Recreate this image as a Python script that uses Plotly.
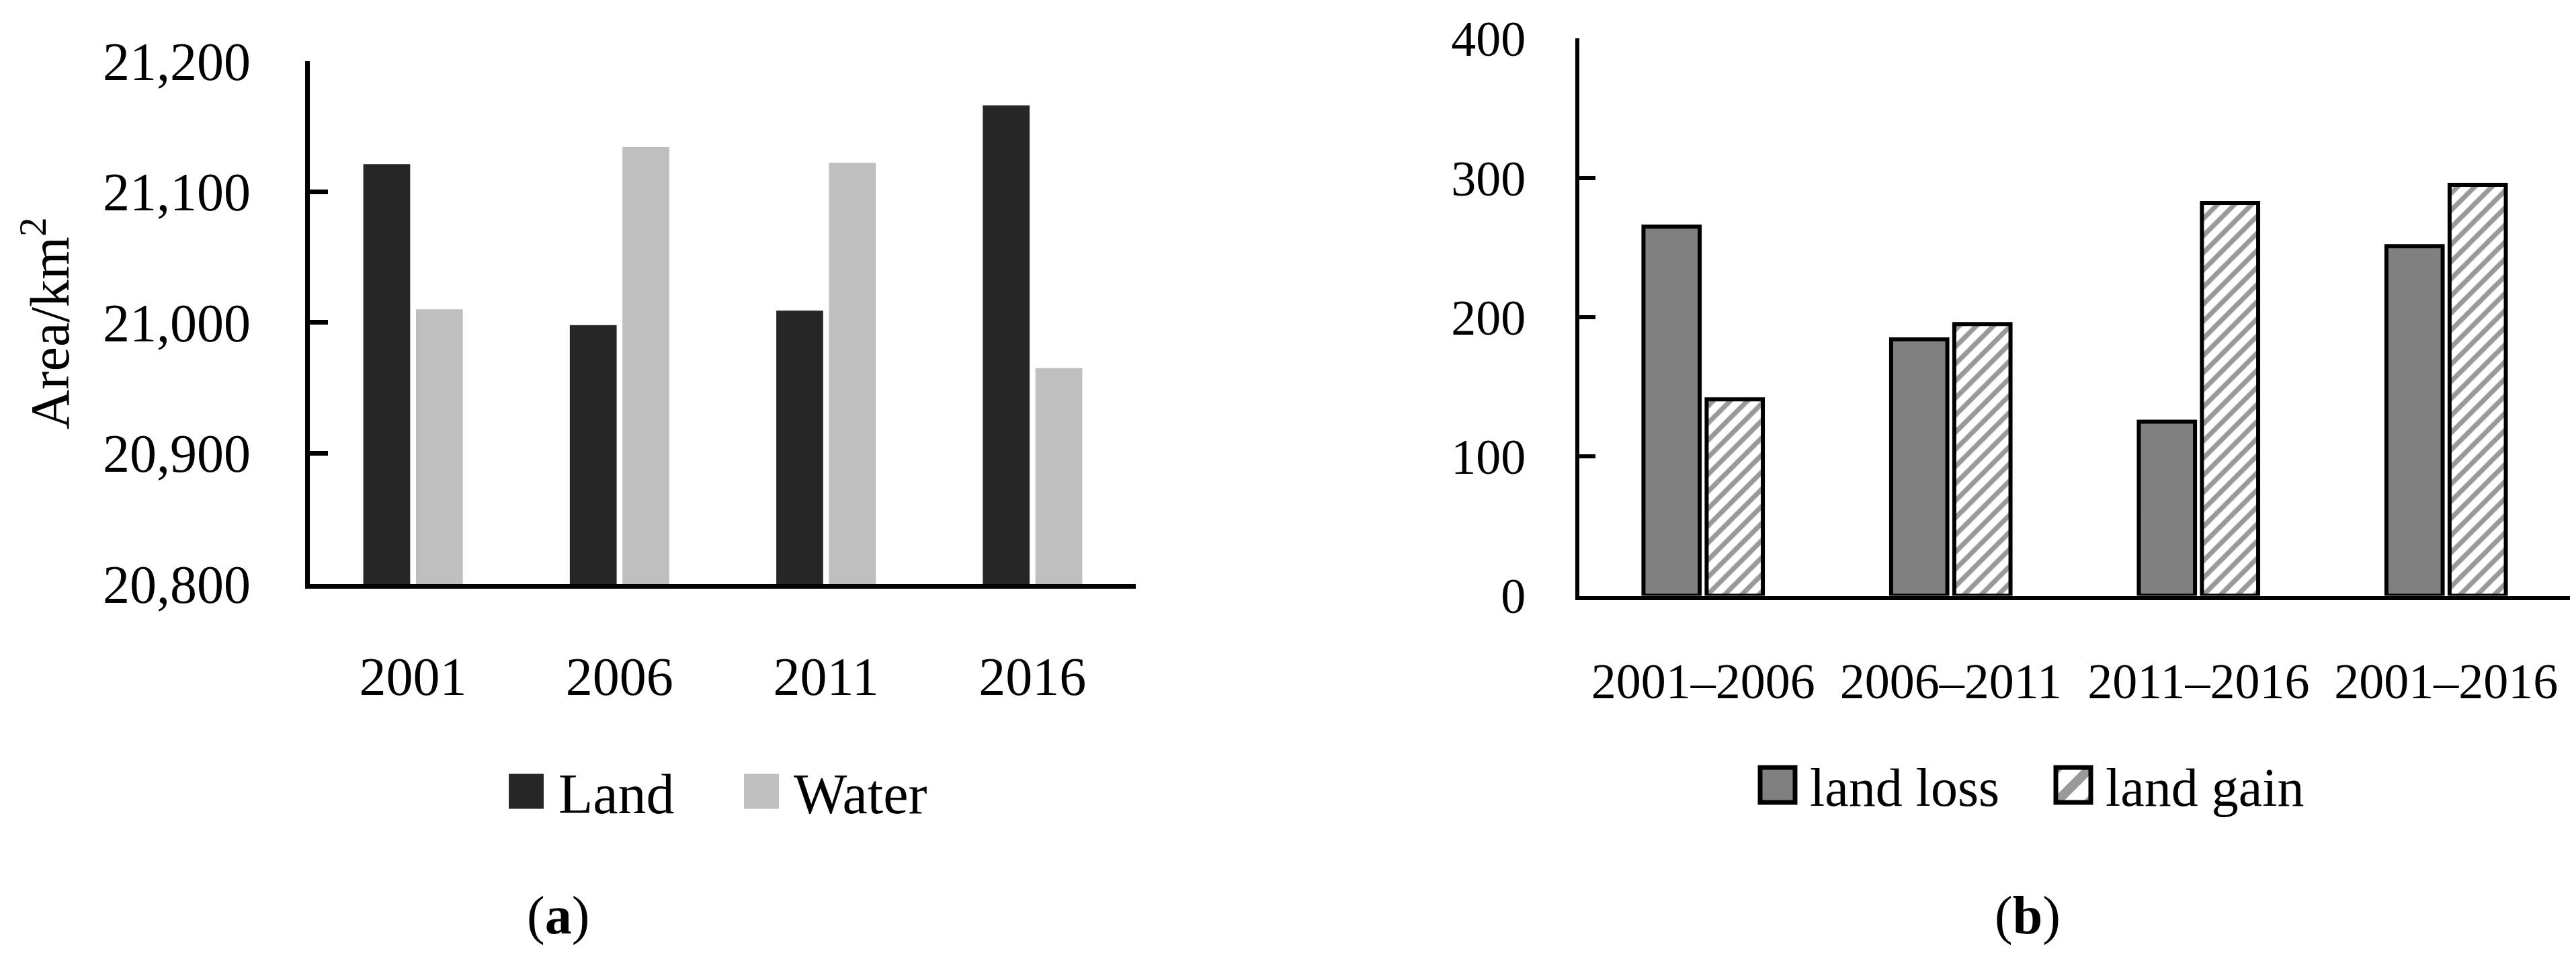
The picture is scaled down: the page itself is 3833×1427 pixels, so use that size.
import plotly.graph_objects as go

# ---- data ----
years = ["2001", "2006", "2011", "2016"]
land = [21121, 20998, 21009, 21166]
water = [21010, 21134, 21122, 20965]

periods = ["2001–2006", "2006–2011", "2011–2016", "2001–2016"]
land_loss = [265, 184, 125, 251]
land_gain = [141, 195, 282, 295]

y_ticks_a = [20800, 20900, 21000, 21100, 21200]
y_ticks_b = [0, 100, 200, 300, 400]

W, H = 3833, 1427
FONT = "Liberation Serif"

fig = go.Figure()
fig.add_trace(go.Bar(x=years, y=land, name="Land", marker=dict(color="#262626", line=dict(width=0)),
                     xaxis="x", yaxis="y", legend="legend"))
fig.add_trace(go.Bar(x=years, y=water, name="Water", marker=dict(color="#bfbfbf", line=dict(width=0)),
                     xaxis="x", yaxis="y", legend="legend"))
fig.add_trace(go.Bar(x=periods, y=land_loss, name="land loss",
                     marker=dict(color="#808080", line=dict(color="black", width=6)),
                     xaxis="x2", yaxis="y2", legend="legend2"))
fig.add_trace(go.Bar(x=periods, y=land_gain, name="land gain",
                     marker=dict(color="white", line=dict(color="black", width=6),
                                 pattern=dict(shape="/", fgcolor="#333333", bgcolor="white",
                                              size=18, solidity=0.4)),
                     xaxis="x2", yaxis="y2", legend="legend2"))

axis_common = dict(showgrid=False, zeroline=False, showline=True, linecolor="black",
                   color="black", fixedrange=True, automargin=False)

fig.update_layout(
    width=W, height=H, autosize=False,
    margin=dict(l=0, r=0, t=0, b=0, pad=0, autoexpand=False),
    paper_bgcolor="white", plot_bgcolor="white",
    font=dict(family=FONT, color="black", size=80),
    bargap=0.49, bargroupgap=0.11,
    xaxis=dict(domain=[461 / W, 1690 / W], anchor="y", ticks="", linewidth=7,
               tickfont=dict(size=80), ticklabelstandoff=62, **axis_common),
    yaxis=dict(domain=[1 - 869 / H, 1 - 90.5 / H], anchor="x", range=[20800, 21200],
               tickvals=y_ticks_a, tickformat=",", ticks="inside", ticklen=27, tickwidth=7,
               tickcolor="black", linewidth=7, tickfont=dict(size=80), ticklabelstandoff=65,
               **axis_common),
    xaxis2=dict(domain=[2350 / W, 3824 / W], anchor="y2", ticks="", linewidth=6,
                tickfont=dict(size=74), ticklabelstandoff=58, **axis_common),
    yaxis2=dict(domain=[1 - 886.5 / H, 1 - 57.4 / H], anchor="x2", range=[0, 400],
                tickvals=y_ticks_b, ticks="inside", ticklen=24, tickwidth=6,
                tickcolor="black", linewidth=6, tickfont=dict(size=74), ticklabelstandoff=59,
                **axis_common),
    legend=dict(orientation="h", x=(757 - 22) / W, y=1 - 1178 / H, xanchor="left", yanchor="middle",
                font=dict(size=84), itemwidth=86, entrywidth=249, bgcolor="rgba(0,0,0,0)",
                borderwidth=0, traceorder="normal"),
    legend2=dict(orientation="h", x=(2619 - 22) / W, y=1 - 1168 / H, xanchor="left", yanchor="middle",
                 font=dict(size=80), itemwidth=86, entrywidth=339, bgcolor="rgba(0,0,0,0)",
                 borderwidth=0, traceorder="normal"),
    showlegend=True,
    annotations=[
        dict(text="Area/km<sup>2</sup>", textangle=-90, x=68 / W, y=1 - 481 / H, xref="paper",
             yref="paper", showarrow=False, font=dict(size=82), xanchor="center", yanchor="middle"),
        dict(text="(<b>a</b>)", x=830 / W, y=1 - 1362 / H, xref="paper", yref="paper",
             showarrow=False, font=dict(size=80), xanchor="center", yanchor="middle"),
        dict(text="(<b>b</b>)", x=3017 / W, y=1 - 1362 / H, xref="paper", yref="paper",
             showarrow=False, font=dict(size=80), xanchor="center", yanchor="middle"),
    ],
)

post = """
document.body.style.margin='0';
document.body.style.overflow='hidden';
var gd=document.getElementById('{plot_id}');
var k=4.33;
gd.querySelectorAll('.legendpoints path').forEach(function(p){
  var t=p.getAttribute('transform')||'';
  p.setAttribute('transform',t+' scale('+k+')');
});
gd.querySelectorAll('.legend2 .legendpoints path').forEach(function(p){
  p.style.strokeWidth=(7/k)+'px';
});
"""

fig.write_html("out.html", config={"displayModeBar": False, "responsive": False}, post_script=post)
